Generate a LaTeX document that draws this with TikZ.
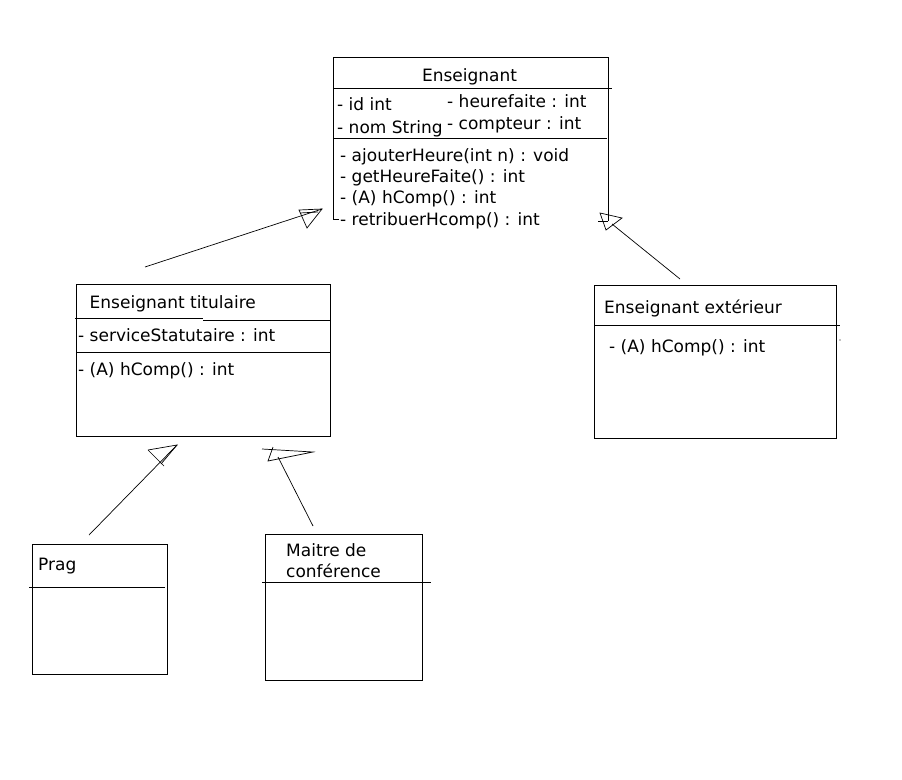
\documentclass[tikz,border=0pt]{standalone}
\usepackage{fontspec}
\setmainfont{DejaVu Sans}
\newcommand{\umlfont}{\fontsize{17}{20}\selectfont}
\begin{document}
\begin{tikzpicture}[x=1pt,y=-1pt,
  box/.style={draw=black, line width=1pt, inner sep=0pt, outer sep=0pt, anchor=north west},
  sep/.style={draw=black, line width=1pt},
  lbl/.style={anchor=base west, inner sep=0pt, font=\umlfont, text=black},
  ttl/.style={anchor=base, inner sep=0pt, font=\umlfont, text=black},
  conn/.style={draw=black, line width=0.7pt, line join=miter}]
\useasboundingbox[fill=white] (0,0) rectangle (902,779);

% ---------- Enseignant ----------
\coordinate (eTL) at (333,57);
\coordinate (eTR) at (608,57);
\draw[sep] (339,219) -- (333,219) -- (eTL) -- (eTR) -- (608,221);
\draw[sep] (598,221) -- (608,221);
\draw[sep] (333,88) -- (612,88);
\draw[sep] (333,138) -- (607,138);
\node[ttl] (eName) at (469.5,81.5) {Enseignant};
\node[lbl] (eA1) at (337,110) {- id int};
\node[lbl] (eA2) at (337,133) {- nom String};
\node[lbl] (eA3) at (447,107.5) {- heurefaite : int};
\node[lbl] (eA4) at (447,129) {- compteur : int};
\node[lbl] (eM1) at (340,161.5) {- ajouterHeure(int n) : void};
\node[lbl] (eM2) at (340,182.5) {- getHeureFaite() : int};
\node[lbl] (eM3) at (340,203.5) {- (A) hComp() : int};
\node[lbl] (eM4) at (340,225.5) {- retribuerHcomp() : int};

% ---------- Enseignant titulaire ----------
\node[box, minimum width=254pt, minimum height=152pt] (tit) at (76,284) {};
\draw[sep] (75,318) -- (203,318);
\draw[sep] (203,320) -- (330,320);
\draw[sep] (76,352) -- (330,352);
\node[lbl] (tName) at (89.5,308) {Enseignant titulaire};
\node[lbl] (tA1) at (78,341.5) {- serviceStatutaire : int};
\node[lbl] (tM1) at (78,375) {- (A) hComp() : int};

% ---------- Enseignant exterieur ----------
\node[box, minimum width=242pt, minimum height=153pt] (ext) at (594,285) {};
\draw[sep] (594,325.5) -- (840,325.5);
\fill[black] (840,340) circle (0.6);
\node[lbl] (xName) at (604,313) {Enseignant extérieur};
\node[lbl] (xM1) at (609,352.5) {- (A) hComp() : int};

% ---------- Prag ----------
\node[box, minimum width=135pt, minimum height=130pt] (prag) at (32,544) {};
\draw[sep] (29,587) -- (165,587);
\node[lbl] (pName) at (38,570) {Prag};

% ---------- Maitre de conference ----------
\node[box, minimum width=157pt, minimum height=146pt] (mcf) at (265,534) {};
\draw[sep] (262,582) -- (431,582);
\node[lbl] (mName1) at (286,556) {Maitre de};
\node[lbl] (mName2) at (286,577.5) {conférence};

% ---------- Generalisation arrows (hand drawn) ----------
% titulaire -> Enseignant
\coordinate (a1s) at (145,267);
\coordinate (a1t) at (322,209);
\draw[conn] (a1s) -- (a1t);
\draw[conn] (299,210) -- (a1t) -- (307,228) -- cycle;
\draw[conn] (300,213) -- (318,212);

% exterieur -> Enseignant
\coordinate (a2s) at (680,279);
\coordinate (a2t) at (612,224);
\draw[conn] (a2s) -- (a2t);
\draw[conn] (600,213) -- (622,218) -- (606,230) -- cycle;

% Prag -> titulaire
\coordinate (a3s) at (89,535);
\coordinate (a3t) at (177,445);
\draw[conn] (a3s) -- (a3t);
\draw[conn] (148,450) -- (a3t) -- (161,464);
\draw[conn] (148,450) -- (164,466);

% Maitre -> titulaire
\coordinate (a4s) at (313,526);
\coordinate (a4t) at (278,457);
\draw[conn] (a4s) -- (a4t);
\draw[conn] (262,449) -- (313,452) -- (268,461) -- (273,447);
\end{tikzpicture}
\end{document}
